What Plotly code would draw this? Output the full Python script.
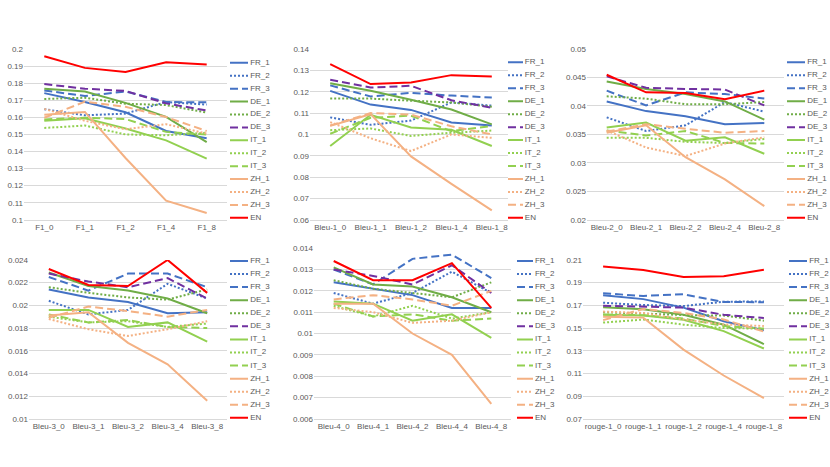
import plotly.graph_objects as go

W, H = 830, 467

series_names = ["FR_1", "FR_2", "FR_3", "DE_1", "DE_2", "DE_3",
                "IT_1", "IT_2", "IT_3", "ZH_1", "ZH_2", "ZH_3", "EN"]

cats_f1 = ["F1_0", "F1_1", "F1_2", "F1_4", "F1_8"]
cats_b1 = ["Bleu-1_0", "Bleu-1_1", "Bleu-1_2", "Bleu-1_4", "Bleu-1_8"]
cats_b2 = ["Bleu-2_0", "Bleu-2_1", "Bleu-2_2", "Bleu-2_4", "Bleu-2_8"]
cats_b3 = ["Bleu-3_0", "Bleu-3_1", "Bleu-3_2", "Bleu-3_4", "Bleu-3_8"]
cats_b4 = ["Bleu-4_0", "Bleu-4_1", "Bleu-4_2", "Bleu-4_4", "Bleu-4_8"]
cats_r1 = ["rouge-1_0", "rouge-1_1", "rouge-1_2", "rouge-1_4", "rouge-1_8"]

f1 = {
    "FR_1": [0.1742, 0.1690, 0.1630, 0.1520, 0.1478],
    "FR_2": [0.1648, 0.1612, 0.1622, 0.1690, 0.1675],
    "FR_3": [0.1758, 0.1725, 0.1752, 0.1690, 0.1688],
    "DE_1": [0.1768, 0.1752, 0.1685, 0.1603, 0.1455],
    "DE_2": [0.1708, 0.1715, 0.1680, 0.1672, 0.1628],
    "DE_3": [0.1795, 0.1768, 0.1755, 0.1682, 0.1640],
    "IT_1": [0.1580, 0.1595, 0.1535, 0.1465, 0.1358],
    "IT_2": [0.1538, 0.1552, 0.1500, 0.1495, 0.1510],
    "IT_3": [0.1588, 0.1598, 0.1590, 0.1515, 0.1500],
    "ZH_1": [0.1615, 0.1632, 0.1362, 0.1112, 0.1040],
    "ZH_2": [0.1650, 0.1580, 0.1530, 0.1560, 0.1505],
    "ZH_3": [0.1598, 0.1692, 0.1662, 0.1602, 0.1520],
    "EN":   [0.1958, 0.1890, 0.1866, 0.1923, 0.1910],
}

bleu1 = {
    "FR_1": [0.1204, 0.1140, 0.1115, 0.1056, 0.1042],
    "FR_2": [0.1080, 0.1045, 0.1065, 0.1150, 0.1135],
    "FR_3": [0.1230, 0.1178, 0.1195, 0.1182, 0.1173],
    "DE_1": [0.1240, 0.1205, 0.1163, 0.1117, 0.1047],
    "DE_2": [0.1168, 0.1168, 0.1158, 0.1150, 0.1130],
    "DE_3": [0.1256, 0.1220, 0.1228, 0.1160, 0.1125],
    "IT_1": [0.0946, 0.1092, 0.1033, 0.1022, 0.0946],
    "IT_2": [0.1020, 0.1028, 0.0993, 0.1008, 0.1018],
    "IT_3": [0.1003, 0.1078, 0.1088, 0.1015, 0.1040],
    "ZH_1": [0.1040, 0.1095, 0.0897, 0.0768, 0.0644],
    "ZH_2": [0.1058, 0.0982, 0.0922, 0.1000, 0.0984],
    "ZH_3": [0.1042, 0.1100, 0.1093, 0.1038, 0.1000],
    "EN":   [0.1330, 0.1236, 0.1243, 0.1278, 0.1272],
}

bleu2 = {
    "FR_1": [0.0408, 0.0391, 0.0382, 0.0368, 0.0370],
    "FR_2": [0.0380, 0.0356, 0.0366, 0.0407, 0.0390],
    "FR_3": [0.0427, 0.0401, 0.0424, 0.0421, 0.0413],
    "DE_1": [0.0443, 0.0430, 0.0421, 0.0408, 0.0376],
    "DE_2": [0.0417, 0.0413, 0.0403, 0.0403, 0.0407],
    "DE_3": [0.0452, 0.0432, 0.0430, 0.0429, 0.0401],
    "IT_1": [0.0362, 0.0371, 0.0339, 0.0345, 0.0316],
    "IT_2": [0.0344, 0.0344, 0.0337, 0.0335, 0.0342],
    "IT_3": [0.0357, 0.0348, 0.0356, 0.0335, 0.0334],
    "ZH_1": [0.0353, 0.0366, 0.0310, 0.0271, 0.0224],
    "ZH_2": [0.0357, 0.0327, 0.0312, 0.0334, 0.0345],
    "ZH_3": [0.0355, 0.0368, 0.0360, 0.0353, 0.0356],
    "EN":   [0.0455, 0.0424, 0.0423, 0.0412, 0.0427],
}

bleu3 = {
    "FR_1": [0.0214, 0.0207, 0.0203, 0.0193, 0.0194],
    "FR_2": [0.0204, 0.0192, 0.0196, 0.0219, 0.0206],
    "FR_3": [0.0225, 0.0213, 0.0228, 0.0228, 0.0216],
    "DE_1": [0.0229, 0.0217, 0.0213, 0.0206, 0.0193],
    "DE_2": [0.0216, 0.0211, 0.0207, 0.0205, 0.0214],
    "DE_3": [0.0228, 0.0221, 0.0216, 0.0224, 0.0206],
    "IT_1": [0.0196, 0.0196, 0.0181, 0.0185, 0.0168],
    "IT_2": [0.0190, 0.0185, 0.0186, 0.0181, 0.0184],
    "IT_3": [0.0192, 0.0185, 0.0187, 0.0181, 0.0180],
    "ZH_1": [0.0191, 0.0194, 0.0167, 0.0148, 0.0116],
    "ZH_2": [0.0188, 0.0179, 0.0173, 0.0179, 0.0186],
    "ZH_3": [0.0189, 0.0199, 0.0195, 0.0190, 0.0196],
    "EN":   [0.0232, 0.0218, 0.0217, 0.0240, 0.0211],
}

bleu4 = {
    "FR_1": [0.0124, 0.0121, 0.0118, 0.0112, 0.0112],
    "FR_2": [0.0119, 0.0114, 0.0119, 0.0129, 0.0119],
    "FR_3": [0.0130, 0.0123, 0.0135, 0.0137, 0.0126],
    "DE_1": [0.0131, 0.0123, 0.0122, 0.0117, 0.0110],
    "DE_2": [0.0125, 0.0121, 0.0119, 0.0117, 0.0124],
    "DE_3": [0.0130, 0.0127, 0.0123, 0.0132, 0.0119],
    "IT_1": [0.0115, 0.0114, 0.0106, 0.0109, 0.0098],
    "IT_2": [0.0113, 0.0108, 0.0113, 0.0107, 0.0110],
    "IT_3": [0.0114, 0.0108, 0.0109, 0.0106, 0.0107],
    "ZH_1": [0.0114, 0.0114, 0.0100, 0.0090, 0.0067],
    "ZH_2": [0.0112, 0.0110, 0.0105, 0.0106, 0.0110],
    "ZH_3": [0.0116, 0.0118, 0.0116, 0.0113, 0.0120],
    "EN":   [0.0134, 0.0125, 0.0125, 0.0133, 0.0112],
}

rouge1 = {
    "FR_1": [0.1790, 0.1755, 0.1680, 0.1560, 0.1481],
    "FR_2": [0.1723, 0.1703, 0.1694, 0.1732, 0.1735],
    "FR_3": [0.1806, 0.1783, 0.1798, 0.1730, 0.1728],
    "DE_1": [0.1683, 0.1665, 0.1617, 0.1530, 0.1358],
    "DE_2": [0.1640, 0.1625, 0.1615, 0.1610, 0.1565],
    "DE_3": [0.1697, 0.1688, 0.1680, 0.1617, 0.1588],
    "IT_1": [0.1617, 0.1611, 0.1573, 0.1473, 0.1320],
    "IT_2": [0.1548, 0.1575, 0.1530, 0.1500, 0.1495],
    "IT_3": [0.1619, 0.1613, 0.1584, 0.1518, 0.1495],
    "ZH_1": [0.1600, 0.1592, 0.1310, 0.1082, 0.0883],
    "ZH_2": [0.1645, 0.1633, 0.1576, 0.1532, 0.1518],
    "ZH_3": [0.1570, 0.1668, 0.1633, 0.1576, 0.1469],
    "EN":   [0.2042, 0.2012, 0.1950, 0.1956, 0.2014],
}

# ---- styles ----
BLUE, DGREEN, PURPLE, LGREEN, ORANGE, RED = "#4472C4", "#70AD47", "#7030A0", "#92D050", "#F4B183", "#FF0000"
DOT, DASH = "2px,2px", "8px,4px"
styles = {
    "FR_1": (BLUE, "solid"), "FR_2": (BLUE, DOT), "FR_3": (BLUE, DASH),
    "DE_1": (DGREEN, "solid"), "DE_2": (DGREEN, DOT), "DE_3": (PURPLE, DASH),
    "IT_1": (LGREEN, "solid"), "IT_2": (LGREEN, DOT), "IT_3": (LGREEN, DASH),
    "ZH_1": (ORANGE, "solid"), "ZH_2": (ORANGE, DOT), "ZH_3": (ORANGE, DASH),
    "EN": (RED, "solid"),
}

FONT = "Liberation Sans, Arial, sans-serif"
TXT = "#595959"
GRID = "#D9D9D9"

# panel: data, cats, y-range, dtick, plot px box (x0,x1,y0top,y1bottom), legend px (lx0,lx1,ly_first,ly_last)
panels = [
    (f1, cats_f1, [0.1, 0.2], 0.01, (24, 227, 46, 220), (230, 248, 60, 218)),
    (bleu1, cats_b1, [0.06, 0.14], 0.01, (310, 512, 46, 220), (508, 523, 59.5, 218)),
    (bleu2, cats_b2, [0.02, 0.05], 0.005, (587, 784, 46, 220), (787, 805, 59.5, 218)),
    (bleu3, cats_b3, [0.01, 0.024], 0.002, (29, 227, 261, 423), (230, 248, 262, 422)),
    (bleu4, cats_b4, [0.006, 0.014], 0.001, (314, 511, 249, 423), (517, 533, 262, 422)),
    (rouge1, cats_r1, [0.07, 0.21], 0.02, (583, 784, 261, 423), (789, 807, 262, 422)),
]

fig = go.Figure()
layout = {}
n = len(series_names)
LEG_XMAX = 1.2   # legend key spans 0..1, label sits at TEXT_X
TEXT_X = 1.12

for i, (data, cats, yr, dt, box, leg) in enumerate(panels):
    k = i + 1
    ks = "" if k == 1 else str(k)
    x0, x1, yt, yb = box
    layout["xaxis" + ks] = dict(
        domain=[x0 / W, x1 / W], anchor="y" + ks, type="category",
        range=[-0.5, 4.5], showgrid=False, zeroline=False,
        showline=True, linecolor=GRID, linewidth=1, ticks="",
        tickfont=dict(family=FONT, size=8, color=TXT), fixedrange=True,
    )
    layout["yaxis" + ks] = dict(
        domain=[1 - yb / H, 1 - yt / H], anchor="x" + ks, range=yr, dtick=dt,
        tick0=yr[0], showgrid=True, gridcolor=GRID, gridwidth=1, zeroline=False,
        showline=False, ticks="", tickformat="~g",
        tickfont=dict(family=FONT, size=8, color=TXT), fixedrange=True,
    )
    for name in series_names:
        col, dash = styles[name]
        fig.add_trace(go.Scatter(
            x=cats, y=data[name], mode="lines", name=name,
            line=dict(color=col, width=2, dash=dash),
            xaxis="x" + ks, yaxis="y" + ks, showlegend=False,
        ))

    # legend built on an auxiliary axis pair
    la = str(k + 6)
    lx0, lx1, lyf, lyl = leg
    step = (lyl - lyf) / (n - 1)
    lx1e = lx0 + (lx1 - lx0) * LEG_XMAX
    layout["xaxis" + la] = dict(domain=[lx0 / W, lx1e / W], anchor="y" + la,
                                range=[0, LEG_XMAX], visible=False, fixedrange=True)
    layout["yaxis" + la] = dict(domain=[1 - (lyl + step / 2) / H, 1 - (lyf - step / 2) / H],
                                anchor="x" + la, range=[n - 0.5, -0.5],
                                visible=False, fixedrange=True)
    for j, name in enumerate(series_names):
        col, dash = styles[name]
        fig.add_trace(go.Scatter(
            x=[0, 1], y=[j, j], mode="lines",
            line=dict(color=col, width=2, dash=dash),
            xaxis="x" + la, yaxis="y" + la, showlegend=False, hoverinfo="skip",
        ))
    fig.add_trace(go.Scatter(
        x=[TEXT_X] * n, y=list(range(n)), mode="text", text=series_names,
        textposition="middle right", cliponaxis=False,
        textfont=dict(family=FONT, size=8, color=TXT),
        xaxis="x" + la, yaxis="y" + la, showlegend=False, hoverinfo="skip",
    ))

fig.update_layout(
    width=W, height=H, margin=dict(l=0, r=0, t=0, b=0),
    paper_bgcolor="white", plot_bgcolor="white", showlegend=False,
    font=dict(family=FONT, size=8, color=TXT),
    **layout,
)

fig.write_html(
    "out.html",
    config={"displayModeBar": False},
    post_script="document.body.style.margin='0';document.body.style.padding='0';"
                "document.body.style.overflow='hidden';",
)
